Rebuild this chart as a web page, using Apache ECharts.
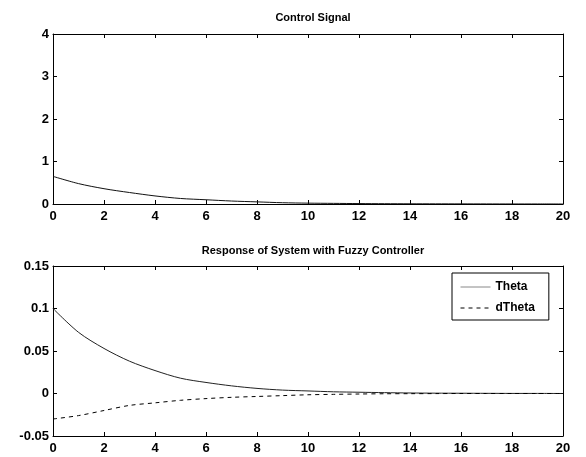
<!DOCTYPE html>
<html>
<head>
<meta charset="utf-8">
<script src="https://cdn.jsdelivr.net/npm/echarts@6/dist/echarts.min.js"></script>
<style>
  html, body { margin: 0; padding: 0; background: #fff; }
  #chart { width: 586px; height: 457px; }
</style>
</head>
<body>
<div id="chart"></div>
<script>
// Simulation time samples (s)
const time = [0, 1, 2, 3, 4, 5, 6, 7, 8, 9, 10, 11, 12, 13, 14, 15, 16, 17, 18, 19, 20];
// Controller output
const controlSignal = [0.65, 0.48, 0.36, 0.27, 0.19, 0.13, 0.10, 0.07, 0.05, 0.03, 0.02, 0.015, 0.01, 0.007, 0.005, 0.004, 0.003, 0.002, 0.001, 0.001, 0.0];
// Plant states
const theta = [0.100, 0.072, 0.053, 0.038, 0.027, 0.018, 0.013, 0.009, 0.006, 0.004, 0.003, 0.002, 0.0015, 0.001, 0.0006, 0.0004, 0.0003, 0.0002, 0.0001, 0.0001, 0.0];
const dTheta = [-0.030, -0.026, -0.020, -0.014, -0.011, -0.008, -0.006, -0.0045, -0.0035, -0.0025, -0.0015, -0.001, -0.0006, -0.0003, -0.0002, -0.0001, 0, 0, 0, 0, 0];

const topTitle = 'Control Signal';
const bottomTitle = 'Response of System with Fuzzy Controller';

const pair = (ys) => time.map((t, i) => [t, ys[i]]);
const FONT = 'Liberation Sans, Arial, sans-serif';

const tickStyle = { show: true, inside: true, length: 4, lineStyle: { color: '#000', width: 1 } };
const lineAx = { show: true, onZero: false, lineStyle: { color: '#000', width: 1 } };
const lbl = { color: '#000', fontFamily: FONT, fontWeight: 'bold', fontSize: 13 };

function xAxes(gridIndex) {
  return [
    { type: 'value', gridIndex, min: 0, max: 20, interval: 2, position: 'bottom',
      axisLine: lineAx, axisTick: tickStyle, splitLine: { show: false },
      axisLabel: Object.assign({ margin: 6 }, lbl) },
    { type: 'value', gridIndex, min: 0, max: 20, interval: 2, position: 'top',
      axisLine: lineAx, axisTick: tickStyle, splitLine: { show: false },
      axisLabel: { show: false } }
  ];
}
function yAxes(gridIndex, min, max, interval, fmt) {
  return [
    { type: 'value', gridIndex, min, max, interval, position: 'left',
      axisLine: lineAx, axisTick: tickStyle, splitLine: { show: false },
      axisLabel: Object.assign({ margin: 4, formatter: fmt }, lbl) },
    { type: 'value', gridIndex, min, max, interval, position: 'right',
      axisLine: lineAx, axisTick: tickStyle, splitLine: { show: false },
      axisLabel: { show: false } }
  ];
}

const chart = echarts.init(document.getElementById('chart'), null, { renderer: 'canvas' });
chart.setOption({
  animation: false,
  backgroundColor: '#fff',
  title: [
    { text: topTitle, left: 308, top: 7, textAlign: 'center',
      textStyle: { fontFamily: FONT, fontWeight: 'bold', fontSize: 11, color: '#000' } },
    { text: bottomTitle, left: 308, top: 240, textAlign: 'center',
      textStyle: { fontFamily: FONT, fontWeight: 'bold', fontSize: 11, color: '#000' } }
  ],
  grid: [
    { left: 53, right: 23, top: 34, height: 170 },
    { left: 53, right: 23, top: 266, height: 170 }
  ],
  xAxis: [...xAxes(0), ...xAxes(1)],
  yAxis: [
    ...yAxes(0, 0, 4, 1, v => String(v)),
    ...yAxes(1, -0.05, 0.15, 0.05, v => {
      const r = Math.round(v * 100) / 100;
      return r === 0 ? '0' : String(r);
    })
  ],
  legend: {
    show: true,
    data: [
      { name: 'Theta', lineStyle: { color: '#888', width: 1 } },
      { name: 'dTheta', lineStyle: { width: 1 } }
    ],
    orient: 'vertical',
    left: 452, top: 273,
    itemWidth: 30, itemHeight: 10, itemGap: 9,
    padding: [8, 14, 6, 8],
    borderColor: '#000', borderWidth: 1, borderRadius: 0,
    backgroundColor: '#fff',
    itemStyle: { opacity: 0 },
    textStyle: { fontFamily: FONT, fontWeight: 'bold', fontSize: 12, color: '#000' }
  },
  series: [
    { name: 'u', type: 'line', xAxisIndex: 0, yAxisIndex: 0, data: pair(controlSignal),
      symbol: 'none', smooth: 0.3, lineStyle: { color: '#111', width: 1 } },
    { name: 'Theta', type: 'line', xAxisIndex: 2, yAxisIndex: 2, data: pair(theta),
      symbol: 'none', smooth: 0.3, color: '#777', lineStyle: { color: '#222', width: 1 } },
    { name: 'dTheta', type: 'line', xAxisIndex: 2, yAxisIndex: 2, data: pair(dTheta),
      symbol: 'none', smooth: 0.3, color: '#000', lineStyle: { color: '#000', width: 1, type: [4, 4] } }
  ]
});
</script>
</body>
</html>
